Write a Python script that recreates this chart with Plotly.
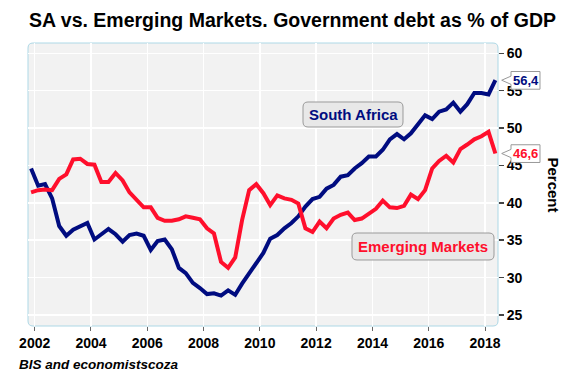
import pandas as pd
import plotly.graph_objects as go

# ---- data (quarterly, mid-quarter, 2001Q4 .. 2018Q2) ----
dates = pd.date_range("2001-11-01", periods=67, freq="3MS") + pd.Timedelta(days=14)

south_africa = [44.6, 42.3, 42.5, 40.6, 36.9, 35.6, 36.4, 36.8, 37.3, 35.1,
                35.8, 36.5, 35.8, 34.8, 35.7, 35.9, 35.6, 33.7, 34.9, 35.1,
                33.8, 31.3, 30.6, 29.3, 28.6, 27.8, 27.9, 27.6, 28.3, 27.7,
                29.2, 30.6, 31.8, 33.3, 35.2, 35.7, 36.6, 37.3, 38.2, 39.5,
                40.5, 40.8, 41.9, 42.4, 43.5, 43.7, 44.6, 45.3, 46.2, 46.2,
                47.1, 48.5, 49.2, 48.5, 49.3, 50.5, 51.7, 51.2, 52.2, 52.5,
                53.4, 52.2, 53.2, 54.7, 54.7, 54.5, 56.4]

emerging = [41.4, 41.7, 41.8, 41.7, 43.2, 43.8, 45.8, 45.9, 45.2, 45.1,
            42.8, 42.8, 44.0, 43.0, 41.4, 40.4, 39.4, 39.4, 38.0, 37.6,
            37.6, 37.8, 38.2, 38.0, 37.8, 36.6, 35.9, 32.1, 31.3, 32.7,
            37.7, 41.7, 42.5, 41.3, 39.7, 41.0, 40.6, 40.4, 39.9, 36.6,
            36.1, 37.5, 36.6, 37.9, 38.4, 38.7, 37.7, 37.9, 38.6, 39.2,
            40.3, 39.4, 39.3, 39.6, 41.1, 40.5, 41.7, 44.6, 45.6, 46.3,
            45.4, 47.2, 47.8, 48.5, 48.9, 49.5, 46.6]

y_ticks = [25, 30, 35, 40, 45, 50, 55, 60]

BLUE = "#000c80"
RED = "#ff0f2c"
FONT = "Arial, Liberation Sans, sans-serif"

W, H = 588, 387
L, R, T, B = 28, 90, 43, 61
PW, PH = W - L - R, H - T - B


def px_x(px):
    return (px - L) / PW


def px_y(py):
    return (H - B - py) / PH


def rrect(x0, y0, x1, y1, r):
    def P(x, y):
        return f"{px_x(x):.5f},{px_y(y):.5f}"
    return (f"M {P(x0 + r, y0)} L {P(x1 - r, y0)} Q {P(x1, y0)} {P(x1, y0 + r)} "
            f"L {P(x1, y1 - r)} Q {P(x1, y1)} {P(x1 - r, y1)} "
            f"L {P(x0 + r, y1)} Q {P(x0, y1)} {P(x0, y1 - r)} "
            f"L {P(x0, y0 + r)} Q {P(x0, y0)} {P(x0 + r, y0)} Z")


fig = go.Figure()
fig.add_trace(go.Scatter(x=dates, y=south_africa, mode="lines", name="South Africa",
                         line=dict(color=BLUE, width=4)))
fig.add_trace(go.Scatter(x=dates, y=emerging, mode="lines", name="Emerging Markets",
                         line=dict(color=RED, width=4)))

shapes = []
# plot background with rounded corners
shapes.append(dict(type="path", xref="paper", yref="paper", layer="below",
                   path=rrect(L, T, W - R, H - B, 5),
                   fillcolor="#f2f2f2", line=dict(color="#add8e6", width=1)))
# series label boxes
shapes.append(dict(type="path", xref="paper", yref="paper", layer="above",
                   path=rrect(303, 102, 403, 127, 5),
                   fillcolor="#e8e8e8", line=dict(color="#9a9a9a", width=1)))
shapes.append(dict(type="path", xref="paper", yref="paper", layer="above",
                   path=rrect(352, 233, 494, 260, 5),
                   fillcolor="#e8e8e8", line=dict(color="#9a9a9a", width=1)))


def callout(v):
    xt, xb, xr = px_x(501.7), px_x(511), px_x(540)
    return (f"M {xt:.5f},{v:.3f} L {xb:.5f},{v + 0.55:.3f} L {xb:.5f},{v + 1.17:.3f} "
            f"L {xr:.5f},{v + 1.17:.3f} L {xr:.5f},{v - 1.2:.3f} L {xb:.5f},{v - 1.2:.3f} "
            f"L {xb:.5f},{v - 0.55:.3f} Z")


annotations = []
for series, col in ((south_africa, BLUE), (emerging, RED)):
    v = series[-1]
    shapes.append(dict(type="path", xref="paper", yref="y", layer="above",
                       path=callout(v), fillcolor="white",
                       line=dict(color="#999999", width=1)))
    annotations.append(dict(xref="paper", yref="y", x=px_x(525.5), y=v,
                            text=f"{v:.1f}".replace(".", ","), showarrow=False,
                            xanchor="center", yanchor="middle",
                            font=dict(family=FONT, size=13, color=col, weight="bold")))

annotations += [
    dict(xref="paper", yref="paper", x=px_x(353), y=px_y(114.5), text="South Africa",
         showarrow=False, xanchor="center", yanchor="middle",
         font=dict(family=FONT, size=15, color=BLUE, weight="bold")),
    dict(xref="paper", yref="paper", x=px_x(423), y=px_y(246.5), text="Emerging Markets",
         showarrow=False, xanchor="center", yanchor="middle",
         font=dict(family=FONT, size=15, color=RED, weight="bold")),
    dict(xref="paper", yref="paper", x=px_x(27), y=px_y(20),
         text="SA vs. Emerging Markets. Government debt as % of GDP",
         showarrow=False, xanchor="left", yanchor="middle",
         font=dict(family=FONT, size=19.5, color="black", weight="bold")),
    dict(xref="paper", yref="paper", x=px_x(17), y=px_y(364),
         text="<i>BIS and economistscoza</i>",
         showarrow=False, xanchor="left", yanchor="middle",
         font=dict(family=FONT, size=13.5, color="black", weight="bold")),
    dict(xref="paper", yref="paper", x=px_x(553), y=0.5, text="Percent",
         showarrow=False, xanchor="center", yanchor="middle", textangle=90,
         font=dict(family=FONT, size=15, color="black", weight="bold")),
]

fig.update_layout(
    width=W, height=H,
    margin=dict(l=L, r=R, t=T, b=B, pad=0),
    paper_bgcolor="white",
    plot_bgcolor="rgba(0,0,0,0)",
    showlegend=False,
    hovermode=False,
    shapes=shapes,
    annotations=annotations,
    font=dict(family=FONT),
    xaxis=dict(
        type="date",
        range=["2001-10-06", "2018-06-18"],
        tick0="2002-01-01", dtick="M24", tickformat="%Y",
        ticks="outside", ticklen=4, tickcolor="#666666", tickwidth=1,
        showgrid=True, gridcolor="white", gridwidth=1.5,
        showline=False, zeroline=False,
        tickfont=dict(family=FONT, size=14, color="black", weight="bold"),
    ),
    yaxis=dict(
        side="right",
        range=[23.53, 61.38],
        tickvals=y_ticks,
        ticks="outside", ticklen=5, tickcolor="#444444", tickwidth=1.5,
        showgrid=True, gridcolor="white", gridwidth=1.5,
        showline=False, zeroline=False,
        tickfont=dict(family=FONT, size=14, color="black", weight="bold"),
    ),
)

fig.write_html("out.html",
               config={"displayModeBar": False, "staticPlot": True},
               post_script="document.body.style.margin='0';document.body.style.overflow='hidden';")
